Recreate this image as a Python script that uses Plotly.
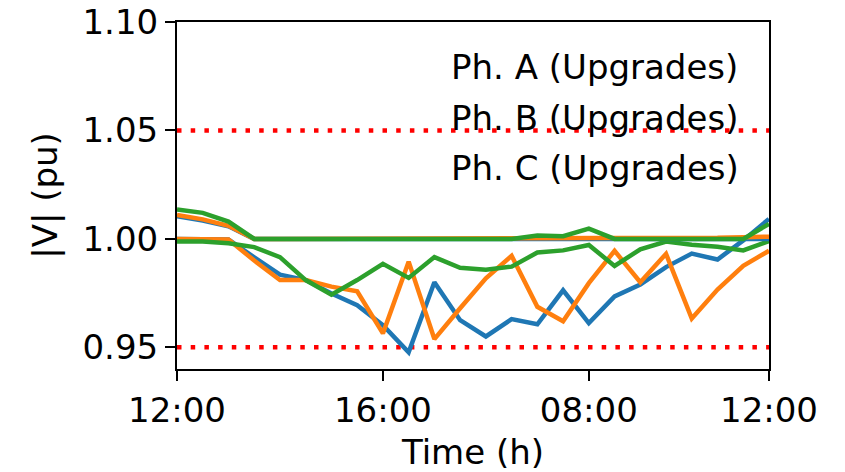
import plotly.graph_objects as go

# Time steps (index) and the hour labels shown on the x axis
steps = list(range(24))
tick_positions = [0, 8, 16, 23]
tick_labels = ["12:00", "16:00", "08:00", "12:00"]

# Voltage magnitude per phase (pu)
phase_a_base = [1.000, 1.000, 0.9997, 0.9915, 0.9835, 0.981, 0.9748, 0.9694, 0.9602, 0.9477,
                0.980, 0.9625, 0.955, 0.963, 0.9606, 0.9763, 0.9612, 0.9735, 0.979, 0.987,
                0.9932, 0.9905, 0.9993, 1.0092]
phase_b_base = [1.000, 1.000, 0.9997, 0.990, 0.981, 0.981, 0.978, 0.9758, 0.9564, 0.9895,
                0.9538, 0.968, 0.9818, 0.9922, 0.9687, 0.962, 0.9796, 0.9945, 0.980, 0.9931,
                0.9633, 0.9766, 0.9876, 0.9945]
phase_c_base = [0.9988, 0.9988, 0.998, 0.9962, 0.9916, 0.981, 0.9743, 0.981, 0.9885, 0.982,
                0.9916, 0.9867, 0.9858, 0.9872, 0.9937, 0.9947, 0.9972, 0.9875, 0.9952, 0.9988,
                0.9973, 0.9964, 0.9947, 0.999]

phase_a_upg = [1.0105, 1.0085, 1.0058, 1.000, 1.000, 1.000, 1.000, 1.000, 1.000, 1.000,
               1.000, 1.000, 1.000, 1.000, 1.000, 1.000, 1.000, 1.000, 1.000, 1.000,
               1.000, 1.000, 1.000, 1.000]
phase_b_upg = [1.011, 1.009, 1.006, 1.000, 1.000, 1.000, 1.000, 1.000, 1.000, 1.000,
               1.000, 1.0002, 1.0003, 1.0004, 1.0004, 1.0004, 1.0004, 1.0002, 1.000, 1.000,
               1.000, 1.0005, 1.0008, 1.001]
phase_c_upg = [1.0135, 1.012, 1.008, 1.000, 1.000, 1.000, 1.000, 1.000, 1.000, 1.000,
               1.000, 1.000, 1.000, 1.000, 1.0015, 1.0012, 1.0047, 1.000, 1.000, 1.000,
               1.000, 1.000, 1.000, 1.0069]

# Voltage limits
v_upper = 1.05
v_lower = 0.95

legend_labels = ["Ph. A (Upgrades)", "Ph. B (Upgrades)", "Ph. C (Upgrades)"]
colors = ["#1f77b4", "#ff7f0e", "#2ca02c"]
FONT = "DejaVu Sans"

fig = go.Figure()

for lim in (v_upper, v_lower):
    fig.add_trace(go.Scatter(
        x=[steps[0], steps[-1]], y=[lim, lim], mode="lines",
        line=dict(color="#ff0000", width=4.5, dash="4.5px,9.2px"),
        showlegend=False, hoverinfo="skip"))

for series, col in zip([phase_a_base, phase_b_base, phase_c_base], colors):
    fig.add_trace(go.Scatter(x=steps, y=series, mode="lines",
                             line=dict(color=col, width=4.5), showlegend=False))

for series, col, name in zip([phase_a_upg, phase_b_upg, phase_c_upg], colors, legend_labels):
    fig.add_trace(go.Scatter(x=steps, y=series, mode="lines", name=name,
                             line=dict(color=col, width=4.5), showlegend=False))

# Legend entries drawn as plain text (no handles)
label_y_px = [67.5, 117.5, 167.5]
plot_top, plot_h = 22, 347
for lbl, py in zip(legend_labels, label_y_px):
    fig.add_annotation(
        text=lbl, xref="paper", yref="paper",
        x=(449 - 177) / 592, y=(plot_top + plot_h - py) / plot_h,
        xanchor="left", yanchor="middle", showarrow=False,
        font=dict(family=FONT, size=34, color="black"))

axis_common = dict(
    showline=True, linecolor="black", linewidth=2, mirror=True,
    ticks="outside", ticklen=10, tickwidth=2, tickcolor="black",
    showgrid=False, zeroline=False, automargin=False,
    tickfont=dict(family=FONT, size=34, color="black"),
)

fig.update_xaxes(
    range=[steps[0], steps[-1]], tickmode="array",
    tickvals=tick_positions, ticktext=tick_labels,
    title=dict(text="Time (h)", font=dict(family=FONT, size=34, color="black"), standoff=12),
    **axis_common)
fig.update_yaxes(
    range=[0.94, 1.10], tickmode="array",
    tickvals=[0.95, 1.00, 1.05, 1.10], ticktext=["0.95", "1.00", "1.05", "1.10"],
    title=dict(text="|V| (pu)", font=dict(family=FONT, size=34, color="black"), standoff=15),
    **axis_common)

fig.update_layout(
    width=845, height=472,
    margin=dict(l=177, r=76, t=22, b=103),
    paper_bgcolor="white", plot_bgcolor="white",
    font=dict(family=FONT, color="black"),
)

fig.write_html("out.html")
